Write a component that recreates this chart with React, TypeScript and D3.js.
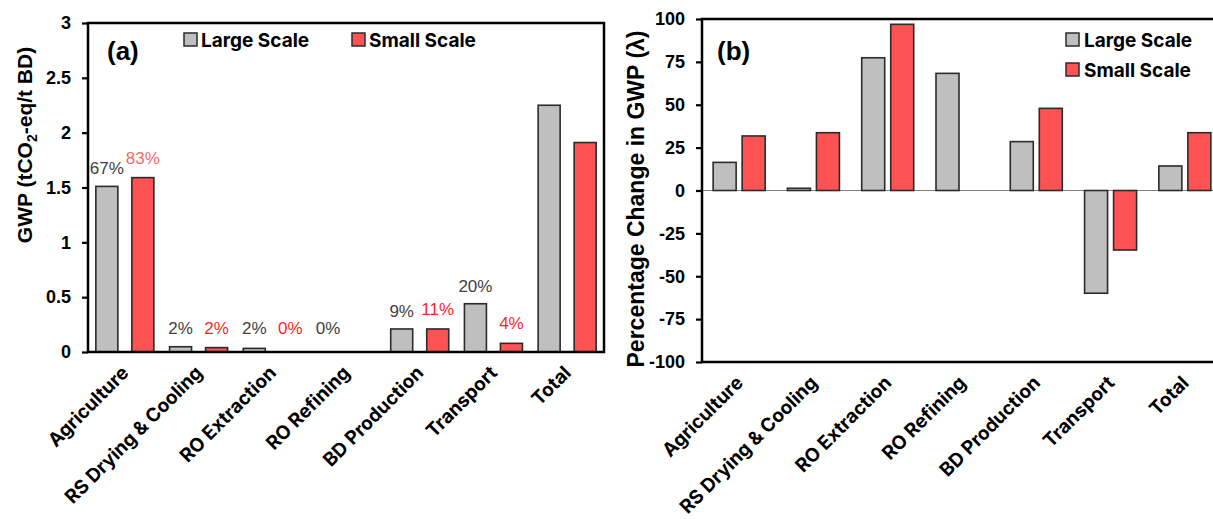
import { useEffect, useRef } from "react";
import * as d3 from "d3";

const width = 1213;
const height = 519;

// categories shared by both panels
const categories = [
	"Agriculture",
	"RS Drying & Cooling",
	"RO Extraction",
	"RO Refining",
	"BD Production",
	"Transport",
	"Total",
];

// panel (a): GWP in tCO2-eq / t BD
const gwpLarge = [1.51, 0.048, 0.033, 0, 0.21, 0.44, 2.25];
const gwpSmall = [1.59, 0.04, 0, 0, 0.21, 0.079, 1.91];
const shareLarge = ["67%", "2%", "2%", "0%", "9%", "20%", ""];
const shareSmall = ["83%", "2%", "0%", "", "11%", "4%", ""];
const gwpTicks = [0, 0.5, 1, 1.5, 2, 2.5, 3];

// panel (b): percentage change in GWP
const changeLarge = [16.4, 1.3, 77.4, 68.3, 28.5, -59.9, 14.3];
const changeSmall = [31.8, 33.7, 96.9, 0, 47.9, -34.7, 33.7];
const changeTicks = [-100, -75, -50, -25, 0, 25, 50, 75, 100];

const seriesNames = ["Large Scale", "Small Scale"];

const grayFill = "#bfbfbf";
const redFill = "#ff5252";
const barStroke = "#2b2b2b";
const tickFont = "'Liberation Sans', Arial, sans-serif";
const labelFont = "Inter, Lato, sans-serif";

// panel (a) geometry
const aLeft = 88;
const aRight = 604;
const aTop = 23;
const aBottom = 352;

// panel (b) geometry
const bLeft = 702;
const bRight = 1222;
const bTop = 19;
const bBottom = 362;

const App = () => {
	const aAxisRef = useRef<SVGGElement>(null);
	const bAxisRef = useRef<SVGGElement>(null);

	const xA = d3.scaleBand().domain(categories).range([aLeft, aRight]);
	const subA = d3
		.scaleBand()
		.domain(seriesNames)
		.range([0, xA.bandwidth()])
		.paddingInner(0.389)
		.paddingOuter(0.218);
	const yA = d3.scaleLinear().domain([0, 3]).range([aBottom, aTop]);

	const xB = d3.scaleBand().domain(categories).range([bLeft, bRight]);
	const subB = d3
		.scaleBand()
		.domain(seriesNames)
		.range([0, xB.bandwidth()])
		.paddingInner(0.207)
		.paddingOuter(0.384);
	const yB = d3.scaleLinear().domain([-100, 100]).range([bBottom, bTop]);

	useEffect(() => {
		const styleAxis = (g) => {
			g.select(".domain").remove();
			g.selectAll(".tick line").attr("stroke", "#000").attr("stroke-width", 2.2);
			g.selectAll(".tick text")
				.attr("fill", "#000")
				.style("font-family", tickFont)
				.style("font-size", "18px")
				.style("font-weight", "bold");
		};
		d3.select(aAxisRef.current)
			.call(
				d3
					.axisLeft(yA)
					.tickValues(gwpTicks)
					.tickSize(6)
					.tickPadding(11)
					.tickFormat((d) => String(d))
			)
			.call(styleAxis);
		d3.select(bAxisRef.current)
			.call(
				d3
					.axisLeft(yB)
					.tickValues(changeTicks)
					.tickSize(6)
					.tickPadding(11)
					.tickFormat((d) => String(d))
			)
			.call(styleAxis);
	}, []);

	const bar = (x, w, y0, y1, fill, key) => (
		<rect
			key={key}
			x={x}
			y={Math.min(y0, y1)}
			width={w}
			height={Math.abs(y1 - y0)}
			fill={fill}
			stroke={barStroke}
			strokeWidth={1.6}
		/>
	);

	const catLabel = (xs, axisY, key) =>
		categories.map((c) => {
			const cx = xs(c) + xs.bandwidth() / 2 + 5;
			const cy = axisY + 22;
			return (
				<text
					key={key + c}
					transform={`translate(${cx},${cy}) rotate(-45)`}
					textAnchor="end"
					fontFamily={labelFont}
					fontWeight={700}
					fontSize={19}
					fill="#000"
				>
					{c}
				</text>
			);
		});

	return (
		<svg
			width={width}
			height={height}
			viewBox={`0 0 ${width} ${height}`}
			style={{ position: "absolute", left: 0, top: 0, background: "#fff" }}
		>
			{/* ---------- panel (a) ---------- */}
			<g className="bars-a">
				{categories.map((c, i) => (
					<g key={c}>
						{gwpLarge[i] > 0 &&
							bar(xA(c) + subA("Large Scale"), subA.bandwidth(), yA(0), yA(gwpLarge[i]), grayFill, "l")}
						{gwpSmall[i] > 0 &&
							bar(xA(c) + subA("Small Scale"), subA.bandwidth(), yA(0), yA(gwpSmall[i]), redFill, "s")}
					</g>
				))}
			</g>
			<g className="shares-a" fontFamily={tickFont} fontSize={17}>
				{categories.map((c, i) => (
					<g key={c}>
						{shareLarge[i] && (
							<text
								x={xA(c) + subA("Large Scale") + subA.bandwidth() / 2}
								y={Math.min(yA(gwpLarge[i]) - 12, 334)}
								textAnchor="middle"
								fill="#404040"
							>
								{shareLarge[i]}
							</text>
						)}
						{shareSmall[i] && (
							<text
								x={xA(c) + subA("Small Scale") + subA.bandwidth() / 2}
								y={Math.min(yA(gwpSmall[i]) - 14, 334)}
								textAnchor="middle"
								fill={i === 0 ? "#f46a6a" : "#ff1f1f"}
							>
								{shareSmall[i]}
							</text>
						)}
					</g>
				))}
			</g>
			<rect
				x={aLeft}
				y={aTop}
				width={aRight - aLeft}
				height={aBottom - aTop}
				fill="none"
				stroke="#000"
				strokeWidth={2.5}
			/>
			<g ref={aAxisRef} transform={`translate(${aLeft},0)`} />
			{catLabel(xA, aBottom, "a")}
			<text
				transform={`translate(32,145) rotate(-90)`}
				textAnchor="middle"
				fontFamily={tickFont}
				fontWeight="bold"
				fontSize={21}
			>
				GWP (tCO
				<tspan fontSize={14} dy={5}>
					2
				</tspan>
				<tspan dy={-5}>-eq/t BD)</tspan>
			</text>
			<text x={107} y={60} fontFamily={tickFont} fontWeight="bold" fontSize={26}>
				(a)
			</text>
			<g fontFamily={labelFont} fontWeight={700} fontSize={19}>
				<rect x={184} y={33} width={13} height={13} fill={grayFill} stroke={barStroke} strokeWidth={1.5} />
				<text x={201} y={47}>
					{seriesNames[0]}
				</text>
				<rect x={352} y={33} width={13} height={13} fill={redFill} stroke={barStroke} strokeWidth={1.5} />
				<text x={369} y={47}>
					{seriesNames[1]}
				</text>
			</g>

			{/* ---------- panel (b) ---------- */}
			<line x1={bLeft} x2={bRight} y1={yB(0)} y2={yB(0)} stroke="#808080" strokeWidth={1.2} />
			<g className="bars-b">
				{categories.map((c, i) => (
					<g key={c}>
						{changeLarge[i] !== 0 &&
							bar(xB(c) + subB("Large Scale"), subB.bandwidth(), yB(0), yB(changeLarge[i]), grayFill, "l")}
						{changeSmall[i] !== 0 &&
							bar(xB(c) + subB("Small Scale"), subB.bandwidth(), yB(0), yB(changeSmall[i]), redFill, "s")}
					</g>
				))}
			</g>
			<rect
				x={bLeft}
				y={bTop}
				width={bRight - bLeft}
				height={bBottom - bTop}
				fill="none"
				stroke="#000"
				strokeWidth={2.5}
			/>
			<g ref={bAxisRef} transform={`translate(${bLeft},0)`} />
			{catLabel(xB, bBottom, "b")}
			<text
				transform={`translate(644,199) rotate(-90)`}
				textAnchor="middle"
				fontFamily={tickFont}
				fontWeight="bold"
				fontSize={23}
			>
				Percentage Change in GWP (λ)
			</text>
			<text x={717} y={60} fontFamily={tickFont} fontWeight="bold" fontSize={26}>
				(b)
			</text>
			<g fontFamily={labelFont} fontWeight={700} fontSize={19}>
				<rect x={1066} y={33} width={13} height={13} fill={grayFill} stroke={barStroke} strokeWidth={1.5} />
				<text x={1084} y={47}>
					{seriesNames[0]}
				</text>
				<rect x={1066} y={63} width={13} height={13} fill={redFill} stroke={barStroke} strokeWidth={1.5} />
				<text x={1084} y={77}>
					{seriesNames[1]}
				</text>
			</g>
		</svg>
	);
};

export default App;
